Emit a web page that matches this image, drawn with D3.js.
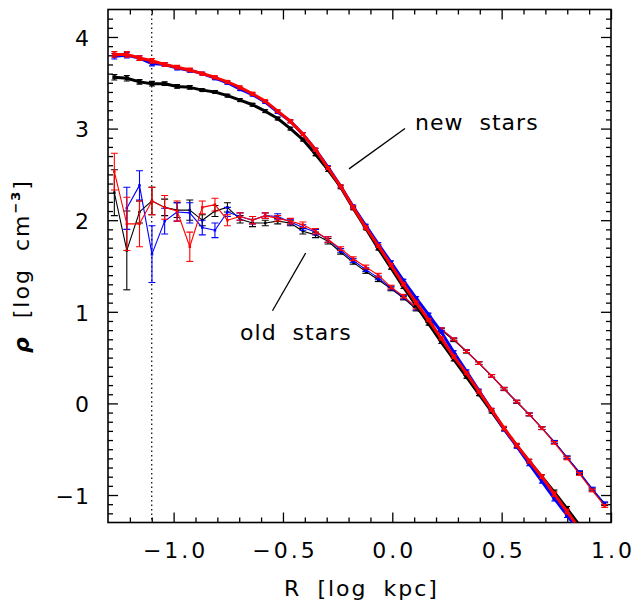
<!DOCTYPE html>
<html>
<head>
<meta charset="utf-8">
<script src="https://cdn.jsdelivr.net/npm/d3@7"></script>
<style>
    body { margin: 0; background: #ffffff; }
    svg { display: block; }
    text { font-family: "DejaVu Sans", sans-serif; fill: #000000; }
</style>
</head>
<body>
<script>
// bin centres, log R [kpc]
const logR = [-1.271, -1.214, -1.156, -1.099, -1.041, -0.984, -0.926, -0.869, -0.811, -0.754,
    -0.696, -0.639, -0.581, -0.524, -0.466, -0.409, -0.351, -0.294, -0.236, -0.179,
    -0.121, -0.064, -0.006, 0.051, 0.109, 0.166, 0.224, 0.281, 0.339, 0.396,
    0.454, 0.511, 0.569, 0.626, 0.684, 0.741, 0.799, 0.856, 0.914, 0.971];

// new stars (thick lines)
const newBlack = [3.56, 3.55, 3.51, 3.49, 3.49, 3.46, 3.45, 3.42, 3.40, 3.36,
    3.31, 3.26, 3.19, 3.11, 3.00, 2.88, 2.72, 2.55, 2.36, 2.13,
    1.91, 1.69, 1.48, 1.27, 1.07, 0.87, 0.67, 0.48, 0.29, 0.10,
    -0.09, -0.28, -0.46, -0.63, -0.80, -0.97, -1.15, -1.33, null, null];
const newBlue = [3.79, 3.80, 3.77, 3.71, 3.70, 3.66, 3.635, 3.60, 3.55, 3.50,
    3.43, 3.37, 3.29, 3.18, 3.08, 2.94, 2.77, 2.58, 2.37, 2.15,
    1.94, 1.74, 1.54, 1.34, 1.15, 0.97, 0.78, 0.56, 0.35, 0.14,
    -0.07, -0.28, -0.47, -0.66, -0.85, -1.04, -1.22, -1.40, null, null];
const newRed = [3.81, 3.81, 3.77, 3.74, 3.70, 3.67, 3.64, 3.60, 3.56, 3.51,
    3.45, 3.38, 3.30, 3.19, 3.08, 2.94, 2.77, 2.57, 2.37, 2.14,
    1.92, 1.72, 1.51, 1.30, 1.10, 0.91, 0.71, 0.51, 0.33, 0.13,
    -0.07, -0.27, -0.455, -0.63, -0.80, -0.99, -1.18, -1.37, null, null];
const errNew = [0.03, 0.03, 0.025, 0.025, 0.02, 0.02, 0.02, 0.015, 0.015, 0.015,
    0.015, 0.015, 0.015, 0.015, 0.015, 0.015, 0.015, 0.015, 0.015, 0.015,
    0.015, 0.015, 0.015, 0.015, 0.015, 0.015, 0.015, 0.015, 0.015, 0.015,
    0.015, 0.02, 0.02, 0.02, 0.02, 0.025, 0.025, 0.03, null, null];

// old stars (thin lines)
const oldBlack = [2.30, 1.67, 2.09, 2.21, 2.14, 2.11, 2.11, 2.00, 2.10, 2.14,
    2.01, 1.97, 1.97, 1.99, 1.97, 1.88, 1.84, 1.77, 1.65, 1.54,
    1.44, 1.35, 1.25, 1.15, 1.03, 0.91, 0.80, 0.69, 0.565, 0.44,
    0.30, 0.155, 0.015, -0.12, -0.27, -0.42, -0.59, -0.76, -0.94, -1.10];
const oldBlue = [null, 2.13, 2.38, 1.63, 1.99, 2.09, 2.08, 1.92, 1.89, 2.09,
    2.04, 2.00, 2.05, 2.04, 1.98, 1.92, 1.87, 1.79, 1.67, 1.56,
    1.46, 1.37, 1.26, 1.16, 1.04, 0.92, 0.81, 0.70, 0.57, 0.44,
    0.30, 0.16, 0.02, -0.12, -0.27, -0.42, -0.59, -0.75, -0.93, -1.09];
const oldRed = [2.53, 1.96, 1.96, 2.21, 2.14, 2.10, 1.71, 2.14, 2.17, 2.00,
    2.04, 2.00, 2.05, 2.02, 1.99, 1.95, 1.88, 1.79, 1.69, 1.58,
    1.49, 1.40, 1.27, 1.17, 1.05, 0.92, 0.81, 0.70, 0.57, 0.44,
    0.30, 0.16, 0.02, -0.12, -0.27, -0.43, -0.60, -0.77, -0.95, -1.12];
const errOldBlack = [0.25, 0.43, 0.12, 0.15, 0.09, 0.08, 0.11, 0.06, 0.06, 0.05,
    0.04, 0.04, 0.03, 0.03, 0.03, 0.03, 0.03, 0.03, 0.02, 0.02,
    0.02, 0.02, 0.02, 0.02, 0.02, 0.02, 0.015, 0.015, 0.015, 0.015,
    0.015, 0.015, 0.015, 0.015, 0.015, 0.015, 0.015, 0.015, 0.015, 0.015];
const errOldBlue = [null, 0.23, 0.16, 0.31, 0.14, 0.10, 0.11, 0.08, 0.08, 0.05,
    0.04, 0.04, 0.03, 0.03, 0.03, 0.03, 0.03, 0.03, 0.02, 0.02,
    0.02, 0.02, 0.02, 0.02, 0.02, 0.02, 0.015, 0.015, 0.015, 0.015,
    0.015, 0.015, 0.015, 0.015, 0.015, 0.015, 0.015, 0.015, 0.015, 0.015];
const errOldRed = [0.20, 0.29, 0.25, 0.15, 0.13, 0.11, 0.16, 0.07, 0.07, 0.06,
    0.04, 0.04, 0.03, 0.03, 0.03, 0.03, 0.03, 0.03, 0.02, 0.02,
    0.02, 0.02, 0.02, 0.02, 0.02, 0.02, 0.015, 0.015, 0.015, 0.015,
    0.015, 0.015, 0.015, 0.015, 0.015, 0.015, 0.015, 0.015, 0.015, 0.015];

// axes
const xDomain = [-1.3, 1.0];
const yDomain = [-1.3, 4.3];
const xMajorTicks = [-1.0, -0.5, 0.0, 0.5, 1.0];
const yMajorTicks = [-1, 0, 1, 2, 3, 4];
const dottedR = -1.1;

// annotations: [label, text x, text y, line x1, y1, x2, y2] in data units
const labels = [
    ['new stars', 0.104, 2.99, 0.058, 3.00, -0.198, 2.56],
    ['old stars', -0.696, 0.692, -0.396, 1.642, -0.548, 1.011]
];

const W = 634, H = 605;
const plot = {left: 108, right: 611, top: 9.5, bottom: 522.5};

const svg = d3.select('body').append('svg')
    .attr('width', W)
    .attr('height', H);

const x = d3.scaleLinear().domain(xDomain).range([plot.left, plot.right]);
const y = d3.scaleLinear().domain(yDomain).range([plot.bottom, plot.top]);

// clip to plotting area
svg.append('clipPath').attr('id', 'clip')
    .append('rect')
    .attr('x', plot.left).attr('y', plot.top)
    .attr('width', plot.right - plot.left)
    .attr('height', plot.bottom - plot.top);

const xMinor = d3.range(-12, 10).map(d => d / 10).filter(d => !xMajorTicks.some(m => Math.abs(m - d) < 1e-6));
const yMinor = d3.range(-12, 43).map(d => d / 10).filter(d => !yMajorTicks.some(m => Math.abs(m - d) < 1e-6));

// inward ticks on all four sides
const drawAxis = (axisFn, scale, values, size, shift, fmt, pad) => {
    const g = svg.append('g')
        .attr('transform', shift)
        .call(axisFn(scale).tickValues(values).tickSize(-size).tickPadding(pad).tickFormat(fmt));
    g.select('.domain').remove();
    g.selectAll('line').attr('stroke', '#000').attr('stroke-width', 1.3);
    return g;
};

const xFmt = d => d3.format('.1f')(d).replace('-', '\u2212');
const yFmt = d => d3.format('d')(d).replace('-', '\u2212');

const xAx = drawAxis(d3.axisBottom, x, xMajorTicks, 10, `translate(0,${plot.bottom})`, xFmt, 20);
xAx.selectAll('text')
    .attr('font-size', 22)
    .attr('font-family', '"DejaVu Sans", sans-serif')
    .style('letter-spacing', '3px')
    .attr('dx', '1.5px');
drawAxis(d3.axisBottom, x, xMinor, 5, `translate(0,${plot.bottom})`, '', 0);
drawAxis(d3.axisTop, x, xMajorTicks, 10, `translate(0,${plot.top})`, '', 0);
drawAxis(d3.axisTop, x, xMinor, 5, `translate(0,${plot.top})`, '', 0);

const yAx = drawAxis(d3.axisLeft, y, yMajorTicks, 10, `translate(${plot.left},0)`, yFmt, 18);
yAx.selectAll('text')
    .attr('font-size', 22)
    .attr('font-family', '"DejaVu Sans", sans-serif')
    .style('letter-spacing', '1px')
    .attr('dy', '0.38em');
drawAxis(d3.axisLeft, y, yMinor, 5, `translate(${plot.left},0)`, '', 0);
drawAxis(d3.axisRight, y, yMajorTicks, 10, `translate(${plot.right},0)`, '', 0);
drawAxis(d3.axisRight, y, yMinor, 5, `translate(${plot.right},0)`, '', 0);

// frame
svg.append('rect')
    .attr('x', plot.left).attr('y', plot.top)
    .attr('width', plot.right - plot.left)
    .attr('height', plot.bottom - plot.top)
    .attr('fill', 'none')
    .attr('stroke', '#000')
    .attr('stroke-width', 1.6);

const body = svg.append('g').attr('clip-path', 'url(#clip)');

// dotted line
body.append('line')
    .attr('x1', x(dottedR)).attr('x2', x(dottedR))
    .attr('y1', plot.top).attr('y2', plot.bottom)
    .attr('stroke', '#000')
    .attr('stroke-width', 1.2)
    .attr('stroke-dasharray', '1.5,3');

/**
 * one profile: line, error bars, square markers
 */
const drawProfile = (values, errs, color, lw, markSize, capW) => {
    const pts = logR.map((r, i) => ({r: r, v: values[i], e: errs[i]})).filter(d => d.v != null);
    const g = body.append('g');
    g.append('path')
        .datum(pts)
        .attr('fill', 'none')
        .attr('stroke', color)
        .attr('stroke-width', lw)
        .attr('stroke-linejoin', 'round')
        .attr('d', d3.line().x(d => x(d.r)).y(d => y(d.v)));
    const eb = g.selectAll('g.eb')
        .data(pts.filter(d => d.e != null))
        .enter()
        .append('g')
        .attr('class', 'eb')
        .attr('stroke', color)
        .attr('stroke-width', 1.1);
    eb.append('line')
        .attr('x1', d => x(d.r)).attr('x2', d => x(d.r))
        .attr('y1', d => y(d.v - d.e)).attr('y2', d => y(d.v + d.e));
    eb.append('line')
        .attr('x1', d => x(d.r) - capW / 2).attr('x2', d => x(d.r) + capW / 2)
        .attr('y1', d => y(d.v + d.e)).attr('y2', d => y(d.v + d.e));
    eb.append('line')
        .attr('x1', d => x(d.r) - capW / 2).attr('x2', d => x(d.r) + capW / 2)
        .attr('y1', d => y(d.v - d.e)).attr('y2', d => y(d.v - d.e));
    g.selectAll('rect')
        .data(pts)
        .enter()
        .append('rect')
        .attr('x', d => x(d.r) - markSize / 2)
        .attr('y', d => y(d.v) - markSize / 2)
        .attr('width', markSize)
        .attr('height', markSize)
        .attr('fill', color);
};

drawProfile(oldBlack, errOldBlack, '#000000', 1.1, 2.5, 7);
drawProfile(oldBlue, errOldBlue, '#0000ff', 1.1, 2.5, 7);
drawProfile(oldRed, errOldRed, '#ff0000', 1.1, 2.5, 7);
drawProfile(newBlack, errNew, '#000000', 3, 4, 6);
drawProfile(newBlue, errNew, '#0000ff', 3, 4, 6);
drawProfile(newRed, errNew, '#ff0000', 3, 4, 6);

// annotations
labels.forEach(l => {
    svg.append('line')
        .attr('x1', x(l[3])).attr('y1', y(l[4]))
        .attr('x2', x(l[5])).attr('y2', y(l[6]))
        .attr('stroke', '#000')
        .attr('stroke-width', 1.3);
    svg.append('text')
        .attr('x', x(l[1])).attr('y', y(l[2]))
        .attr('font-size', 22)
        .style('letter-spacing', '1px')
        .style('word-spacing', '8px')
        .text(l[0]);
});

// axis titles
svg.append('text')
    .attr('x', (plot.left + plot.right) / 2 + 2)
    .attr('y', 596)
    .attr('text-anchor', 'middle')
    .attr('font-size', 22)
    .style('letter-spacing', '2px')
    .style('word-spacing', '7px')
    .text('R [log kpc]');

const yt = svg.append('text')
    .attr('transform', 'translate(29,266) rotate(-90)')
    .attr('text-anchor', 'middle')
    .attr('font-size', 22)
    .style('letter-spacing', '2px')
    .style('word-spacing', '8px');
yt.append('tspan').attr('font-weight', 'bold').attr('font-style', 'italic').text('\u03c1');
yt.append('tspan').text(' [log cm');
yt.append('tspan').attr('font-size', 13).attr('font-weight', 'bold').attr('dy', -9).text('\u2212' + '3');
yt.append('tspan').attr('dy', 9).text(']');
</script>
</body>
</html>
